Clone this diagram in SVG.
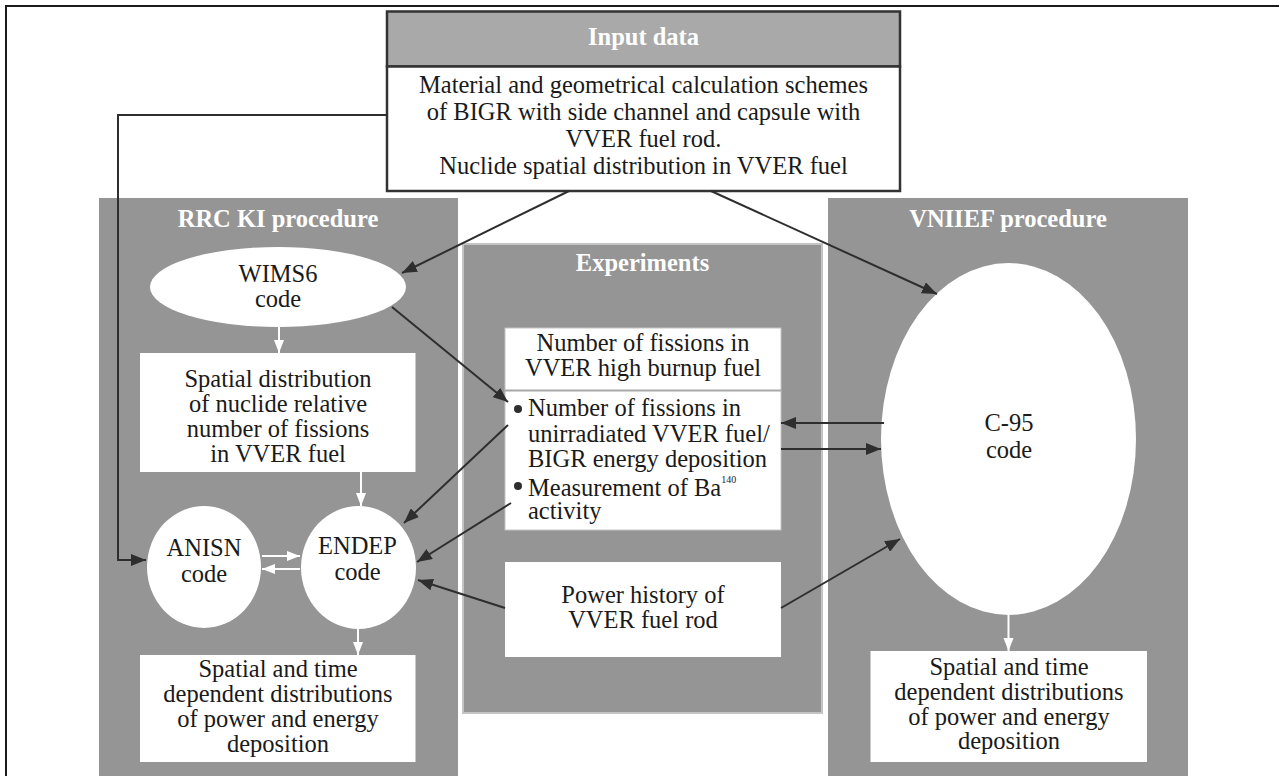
<svg xmlns="http://www.w3.org/2000/svg" width="1279" height="776" viewBox="0 0 1279 776">
<defs>
<style>
.t{font-family:"Liberation Serif","Times New Roman",serif;font-size:24.5px;fill:#1a1a1a;text-anchor:middle}
.tl{font-family:"Liberation Serif","Times New Roman",serif;font-size:24.5px;fill:#1a1a1a}
.h{font-family:"Liberation Serif","Times New Roman",serif;font-size:24.5px;font-weight:bold;fill:#ffffff;text-anchor:middle}
.panel{fill:#959595}
.box{fill:#ffffff}
.el{fill:#ffffff}
.c{stroke:#2e2e2e;stroke-width:2;fill:none}
.w{stroke:#ffffff;stroke-width:2;fill:none}
</style>
<marker id="ad" markerUnits="userSpaceOnUse" markerWidth="16" markerHeight="12" refX="15" refY="6" orient="auto"><path d="M0,0 L15,6 L0,12 z" fill="#2e2e2e"/></marker>
<marker id="aw" markerUnits="userSpaceOnUse" markerWidth="14" markerHeight="12" refX="13" refY="5" orient="auto"><path d="M0,0 L13,5 L0,10 z" fill="#ffffff"/></marker>
</defs>
<rect width="1279" height="776" fill="#ffffff"/>
<path d="M6,776 V6 H1279" stroke="#1a1a1a" stroke-width="2" fill="none"/>

<g id="rrc-panel">
<rect class="panel" x="99" y="198" width="359" height="590"/>
<text class="h" x="278" y="227">RRC KI procedure</text>
</g>
<g id="exp-panel">
<rect class="panel" x="463" y="244" width="359" height="469" stroke="#c4c4c4" stroke-width="2"/>
<text class="h" x="642.5" y="271">Experiments</text>
</g>
<g id="vniief-panel">
<rect class="panel" x="828" y="198" width="360" height="590"/>
<text class="h" x="1008" y="227">VNIIEF procedure</text>
</g>

<g id="input">
<rect x="387" y="11.5" width="513" height="55" fill="#a9a9a9" stroke="#333" stroke-width="2.5"/>
<rect x="387" y="66.5" width="513" height="124.5" fill="#ffffff" stroke="#333" stroke-width="2.5"/>
<text class="h" x="643.5" y="45">Input data</text>
<text class="t" x="643.5" y="93">Material and geometrical calculation schemes</text>
<text class="t" x="643.5" y="120">of BIGR with side channel and capsule with</text>
<text class="t" x="643.5" y="147">VVER fuel rod.</text>
<text class="t" x="643.5" y="174">Nuclide spatial distribution in VVER fuel</text>
</g>

<g id="wims6">
<ellipse class="el" cx="278" cy="287" rx="128" ry="40"/>
<text class="t" x="278" y="282">WIMS6</text>
<text class="t" x="278" y="307">code</text>
</g>

<g id="spatial-dist">
<rect class="box" x="140" y="353" width="275.5" height="119"/>
<text class="t" x="278" y="387">Spatial distribution</text>
<text class="t" x="278" y="412">of nuclide relative</text>
<text class="t" x="278" y="437">number of fissions</text>
<text class="t" x="278" y="462">in VVER fuel</text>
</g>

<g id="anisn">
<ellipse class="el" cx="204" cy="567" rx="57" ry="61"/>
<text class="t" x="204" y="556">ANISN</text>
<text class="t" x="204" y="582">code</text>
</g>

<g id="endep">
<ellipse class="el" cx="358.5" cy="567.5" rx="57.5" ry="61.5"/>
<text class="t" x="357.5" y="554">ENDEP</text>
<text class="t" x="357.5" y="580">code</text>
</g>

<g id="rrc-result">
<rect class="box" x="140" y="655" width="275.5" height="107"/>
<text class="t" x="278" y="677">Spatial and time</text>
<text class="t" x="278" y="702">dependent distributions</text>
<text class="t" x="278" y="727">of power and energy</text>
<text class="t" x="278" y="752">deposition</text>
</g>

<g id="fissions">
<rect class="box" x="505" y="328" width="276" height="202" stroke="#c4c4c4" stroke-width="1"/>
<line x1="505" y1="390.5" x2="781" y2="390.5" stroke="#a8a8a8" stroke-width="2"/>
<text class="t" x="643" y="351">Number of fissions in</text>
<text class="t" x="643" y="376">VVER high burnup fuel</text>
<circle cx="518" cy="409" r="4" fill="#2e2e2e"/>
<text class="tl" x="528" y="416">Number of fissions in</text>
<text class="tl" x="528" y="442">unirradiated VVER fuel/</text>
<text class="tl" x="528" y="467">BIGR energy deposition</text>
<circle cx="518" cy="486" r="4" fill="#2e2e2e"/>
<text class="tl" x="528" y="496">Measurement of Ba<tspan font-size="10" dy="-13">140</tspan></text>
<text class="tl" x="528" y="519">activity</text>
</g>

<g id="power-history">
<rect class="box" x="505" y="562" width="276" height="95"/>
<text class="t" x="643" y="603">Power history of</text>
<text class="t" x="643" y="628">VVER fuel rod</text>
</g>

<g id="c95">
<ellipse class="el" cx="1008.5" cy="439" rx="127.5" ry="176"/>
<text class="t" x="1009" y="431">C-95</text>
<text class="t" x="1009" y="458">code</text>
</g>

<g id="vniief-result">
<rect class="box" x="870.5" y="651" width="276.5" height="111"/>
<text class="t" x="1009" y="675">Spatial and time</text>
<text class="t" x="1009" y="700">dependent distributions</text>
<text class="t" x="1009" y="725">of power and energy</text>
<text class="t" x="1009" y="749">deposition</text>
</g>

<g id="connectors">
<path class="c" d="M387,115 H118 V560 H146" marker-end="url(#ad)"/>
<line class="c" x1="569" y1="191" x2="402" y2="273" marker-end="url(#ad)"/>
<line class="c" x1="711" y1="191" x2="937" y2="294" marker-end="url(#ad)"/>
<line class="c" x1="392" y1="307" x2="508" y2="402" marker-end="url(#ad)"/>
<line class="c" x1="508" y1="425" x2="404" y2="523" marker-end="url(#ad)"/>
<line class="c" x1="511" y1="503" x2="417" y2="562" marker-end="url(#ad)"/>
<line class="c" x1="505" y1="608" x2="418" y2="580" marker-end="url(#ad)"/>
<line class="c" x1="884" y1="423" x2="781" y2="423" marker-end="url(#ad)"/>
<line class="c" x1="781" y1="449" x2="881" y2="449" marker-end="url(#ad)"/>
<line class="c" x1="781" y1="608" x2="900" y2="539" marker-end="url(#ad)"/>
<line class="w" x1="279" y1="327" x2="279" y2="353" marker-end="url(#aw)"/>
<line class="w" x1="361" y1="472" x2="361" y2="506" marker-end="url(#aw)"/>
<line class="w" x1="262" y1="556" x2="300" y2="556" marker-end="url(#aw)"/>
<line class="w" x1="300" y1="569" x2="262" y2="569" marker-end="url(#aw)"/>
<line class="w" x1="358" y1="629" x2="358" y2="655" marker-end="url(#aw)"/>
<line class="w" x1="1008.5" y1="615" x2="1008.5" y2="651" marker-end="url(#aw)"/>
</g>
</svg>
